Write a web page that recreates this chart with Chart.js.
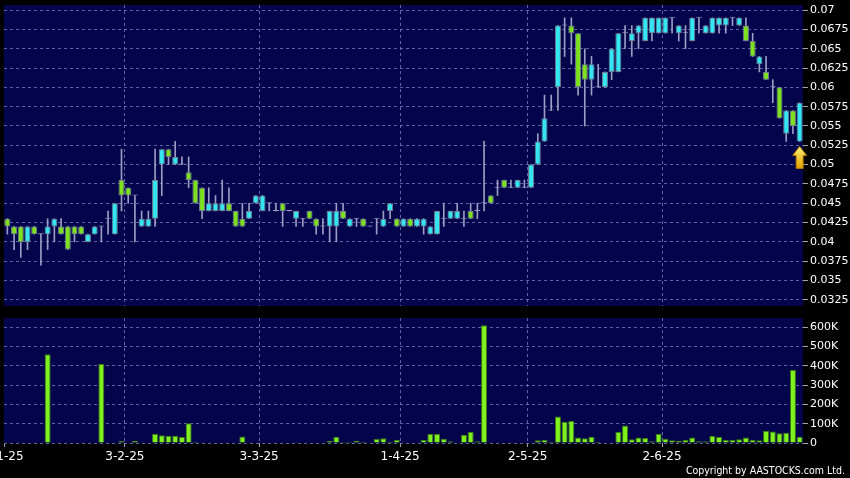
<!DOCTYPE html>
<html>
<head>
<meta charset="utf-8">
<script src="https://cdn.jsdelivr.net/npm/chart.js@4.4.1/dist/chart.umd.min.js"></script>
<style>
  html, body { margin: 0; padding: 0; background: #000; }
  #wrap { position: relative; width: 850px; height: 478px; overflow: hidden; background: #000; }
  #priceChart { position: absolute; left: 0; top: 0; }
  #volChart { position: absolute; left: 0; top: 312px; }
  #copy { position: absolute; right: 5px; top: 464px; color: #fff; font: 10.5px "DejaVu Sans Condensed", "DejaVu Sans", sans-serif; white-space: nowrap; }
</style>
</head>
<body>
<div id="wrap">
  <canvas id="priceChart" width="850" height="310"></canvas>
  <canvas id="volChart" width="850" height="166"></canvas>
  <div id="copy">Copyright by AASTOCKS.com Ltd.</div>
</div>
<script>
// daily OHLC (HKD)
const open = [
  0.043,0.042,0.042,0.040,0.042,0.041,0.041,0.042,0.042,0.042,
  0.042,0.042,0.040,0.041,0.042,0.043,0.041,0.048,0.047,0.046,
  0.042,0.042,0.043,0.050,0.052,0.050,0.050,0.049,0.048,0.047,
  0.044,0.044,0.044,0.045,0.044,0.043,0.043,0.045,0.044,0.045,
  0.044,0.045,0.044,0.043,0.043,0.044,0.043,0.042,0.042,0.042,
  0.044,0.042,0.043,0.043,0.042,0.043,0.042,0.044,0.043,0.042,
  0.043,0.042,0.042,0.041,0.041,0.043,0.043,0.043,0.043,0.044,
  0.044,0.045,0.046,0.047,0.048,0.047,0.047,0.047,0.047,0.050,
  0.053,0.057,0.060,0.068,0.068,0.067,0.063,0.061,0.060,0.060,
  0.062,0.062,0.067,0.066,0.067,0.066,0.067,0.067,0.067,0.069,
  0.067,0.067,0.066,0.069,0.067,0.067,0.068,0.068,0.069,0.068,
  0.068,0.066,0.063,0.062,0.060,0.060,0.054,0.057,0.053
];
const close = [
  0.042,0.041,0.040,0.042,0.041,0.041,0.042,0.043,0.041,0.039,
  0.041,0.041,0.041,0.042,0.042,0.043,0.045,0.046,0.046,0.046,
  0.043,0.043,0.048,0.052,0.051,0.051,0.050,0.048,0.045,0.044,
  0.045,0.045,0.045,0.044,0.042,0.042,0.044,0.046,0.046,0.045,
  0.044,0.044,0.044,0.044,0.043,0.043,0.042,0.042,0.044,0.044,
  0.043,0.043,0.043,0.042,0.042,0.043,0.043,0.045,0.042,0.043,
  0.042,0.043,0.043,0.042,0.044,0.043,0.044,0.044,0.043,0.043,
  0.044,0.045,0.045,0.047,0.047,0.047,0.048,0.047,0.050,0.053,
  0.056,0.057,0.068,0.068,0.067,0.060,0.061,0.063,0.060,0.062,
  0.065,0.067,0.067,0.067,0.068,0.069,0.069,0.069,0.069,0.069,
  0.068,0.067,0.069,0.069,0.068,0.069,0.069,0.069,0.069,0.069,
  0.066,0.064,0.064,0.061,0.060,0.056,0.057,0.055,0.058
];
const high = [
  0.043,0.042,0.042,0.042,0.042,0.041,0.043,0.043,0.043,0.042,
  0.042,0.042,0.041,0.042,0.042,0.044,0.045,0.052,0.047,0.046,
  0.044,0.044,0.052,0.052,0.052,0.053,0.051,0.051,0.048,0.047,
  0.047,0.046,0.048,0.047,0.044,0.045,0.045,0.046,0.046,0.045,
  0.045,0.045,0.044,0.044,0.043,0.044,0.043,0.043,0.044,0.045,
  0.045,0.043,0.043,0.043,0.042,0.043,0.044,0.045,0.043,0.043,
  0.043,0.043,0.043,0.042,0.044,0.045,0.044,0.045,0.044,0.045,
  0.045,0.053,0.046,0.048,0.048,0.048,0.048,0.048,0.050,0.054,
  0.059,0.059,0.068,0.069,0.069,0.067,0.065,0.064,0.063,0.062,
  0.065,0.067,0.068,0.068,0.068,0.069,0.069,0.069,0.069,0.069,
  0.068,0.068,0.069,0.069,0.068,0.069,0.069,0.069,0.069,0.069,
  0.069,0.067,0.064,0.064,0.061,0.060,0.057,0.057,0.058
];
const low = [
  0.041,0.039,0.038,0.039,0.041,0.037,0.039,0.040,0.041,0.039,
  0.040,0.041,0.040,0.041,0.040,0.041,0.041,0.044,0.045,0.040,
  0.042,0.042,0.042,0.046,0.050,0.050,0.050,0.047,0.045,0.043,
  0.044,0.044,0.044,0.044,0.042,0.042,0.043,0.045,0.044,0.044,
  0.044,0.042,0.044,0.042,0.042,0.043,0.041,0.041,0.040,0.040,
  0.043,0.042,0.042,0.042,0.042,0.041,0.042,0.043,0.042,0.042,
  0.042,0.042,0.041,0.041,0.041,0.042,0.043,0.043,0.042,0.043,
  0.043,0.044,0.045,0.046,0.047,0.047,0.047,0.047,0.047,0.050,
  0.053,0.057,0.057,0.064,0.063,0.059,0.055,0.059,0.060,0.060,
  0.061,0.062,0.065,0.064,0.065,0.066,0.066,0.067,0.067,0.067,
  0.066,0.065,0.066,0.067,0.067,0.067,0.067,0.067,0.068,0.068,
  0.066,0.064,0.062,0.061,0.058,0.056,0.053,0.054,0.053
];
// daily turnover (shares)
const volume = [
  1500,0,1500,0,0,0,460000,0,0,0,
  0,0,0,0,409000,0,0,10000,0,12000,
  0,0,48000,40000,38000,38000,31000,102000,7000,0,
  0,0,3000,0,3000,34000,0,3000,0,0,
  3000,2000,0,4000,0,0,2000,0,12000,33000,
  5000,5000,12000,7000,0,21000,24000,7000,17000,0,
  3000,0,15000,48000,47000,22000,9000,0,43000,57000,
  9000,610000,0,2000,0,4000,0,0,0,14000,
  17000,7000,138000,110000,114000,28000,24000,33000,7000,0,
  3000,57000,91000,19000,28000,26000,9000,47000,22000,14000,
  12000,17000,29000,9000,9000,38000,31000,15000,15000,19000,
  28000,17000,14000,64000,59000,50000,53000,379000,33000
];
const volTicks = [0, 100000, 200000, 300000, 400000, 500000, 600000];

// HK trading days from 3 Jan 2025, labelled d-m-yy
const holidays = ['2025-01-29','2025-01-30','2025-01-31','2025-04-04','2025-04-18','2025-04-21','2025-05-01','2025-05-05'];
const dates = [];
for (let d = new Date(Date.UTC(2025, 0, 3)); dates.length < open.length; d.setUTCDate(d.getUTCDate() + 1)) {
  const dow = d.getUTCDay();
  if (dow === 0 || dow === 6 || holidays.includes(d.toISOString().slice(0, 10))) continue;
  dates.push(d.getUTCDate() + '-' + (d.getUTCMonth() + 1) + '-' + String(d.getUTCFullYear()).slice(2));
}
// first trading day of each month gets a label + grid line
const monthStart = dates.map((s, i) => i === 0 || s.split('-')[1] !== dates[i - 1].split('-')[1]);

const UP = '#35e6f2';
const DOWN = '#7ee01f';
const WICK = '#9c9cc4';
const NAVY = '#03044b';
const GRID = 'rgba(120,124,185,0.8)';
const TICK = '#a0a0b0';
const FONT = '"DejaVu Sans", sans-serif';

const panelBg = {
  id: 'panelBg',
  beforeDraw(chart) {
    const { ctx, chartArea: a } = chart;
    ctx.save();
    ctx.fillStyle = '#000';
    ctx.fillRect(0, 0, chart.width, chart.height);
    ctx.fillStyle = NAVY;
    ctx.fillRect(a.left, a.top, a.right - a.left, a.bottom - a.top);
    ctx.restore();
  }
};

// yellow arrow under the latest bar
const lastArrow = {
  id: 'lastArrow',
  afterDatasetsDraw(chart) {
    const { ctx, scales: { x, y } } = chart;
    const i = open.length - 1;
    const cx = x.getPixelForValue(i);
    const top = y.getPixelForValue(low[i]) + 5;
    const g = ctx.createLinearGradient(0, top, 0, top + 22);
    g.addColorStop(0, '#fff27a');
    g.addColorStop(1, '#e3a000');
    ctx.save();
    ctx.beginPath();
    ctx.moveTo(cx, top);
    ctx.lineTo(cx + 7, top + 9);
    ctx.lineTo(cx + 3.5, top + 9);
    ctx.lineTo(cx + 3.5, top + 22);
    ctx.lineTo(cx - 3.5, top + 22);
    ctx.lineTo(cx - 3.5, top + 9);
    ctx.lineTo(cx - 7, top + 9);
    ctx.closePath();
    ctx.fillStyle = g;
    ctx.fill();
    ctx.strokeStyle = '#b07800';
    ctx.lineWidth = 1;
    ctx.stroke();
    ctx.restore();
  }
};

function candleColor(ctx) {
  const i = ctx.dataIndex;
  if (close[i] > open[i]) return UP;
  if (close[i] < open[i]) return DOWN;
  return WICK;
}

function xGrid(tickMarks) {
  return {
    offset: true,
    color: c => (c.index > 0 && monthStart[c.index]) ? GRID : 'transparent',
    tickColor: c => monthStart[c.index] ? TICK : 'transparent',
    drawTicks: tickMarks,
    tickLength: 4
  };
}

function fixRightAxis(scale) {
  scale.width = 47;
  scale.paddingTop = 0;
  scale.paddingBottom = 0;
}

Chart.defaults.font.family = FONT;
Chart.defaults.color = '#fff';
Chart.defaults.animation = false;

new Chart(document.getElementById('priceChart'), {
  type: 'bar',
  data: {
    labels: dates,
    datasets: [
      {
        data: open.map((o, i) => [o, close[i]]),
        backgroundColor: candleColor,
        borderColor: c => candleColor(c) === WICK ? WICK : '#6f7f90',
        borderWidth: 1,
        borderSkipped: false,
        minBarLength: 1,
        barPercentage: 0.9,
        categoryPercentage: 1,
        grouped: false,
        order: 0
      },
      {
        data: low.map((l, i) => [l, high[i]]),
        backgroundColor: WICK,
        borderWidth: 0,
        barThickness: 1,
        grouped: false,
        order: 1
      }
    ]
  },
  options: {
    responsive: false,
    layout: { padding: { top: 5, bottom: 4, left: 4, right: 0 } },
    plugins: { legend: { display: false }, tooltip: { enabled: false } },
    scales: {
      x: {
        offset: true,
        border: { display: false, dash: [3, 3] },
        grid: xGrid(false),
        ticks: { display: false },
        afterFit: s => { s.height = 0; s.paddingLeft = 0; s.paddingRight = 0; }
      },
      y: {
        position: 'right',
        min: 0.0317,
        max: 0.07066,
        border: { display: false, dash: [3, 3] },
        grid: { color: GRID, tickColor: TICK, tickLength: 5 },
        ticks: {
          stepSize: 0.0025,
          includeBounds: false,
          padding: 2,
          font: { size: 11 },
          callback: v => String(+v.toFixed(4))
        },
        afterFit: fixRightAxis
      }
    }
  },
  plugins: [panelBg, lastArrow]
});

new Chart(document.getElementById('volChart'), {
  type: 'bar',
  data: {
    labels: dates,
    datasets: [{
      data: volume,
      backgroundColor: '#7ff21e',
      borderColor: '#3d7a12',
      borderWidth: 1,
      borderSkipped: 'start',
      barPercentage: 0.9,
      categoryPercentage: 1
    }]
  },
  options: {
    responsive: false,
    layout: { padding: { top: 6, bottom: 0, left: 4, right: 0 } },
    plugins: { legend: { display: false }, tooltip: { enabled: false } },
    scales: {
      x: {
        offset: true,
        border: { display: false, dash: [3, 3] },
        grid: xGrid(true),
        ticks: {
          autoSkip: false,
          maxRotation: 0,
          padding: 3,
          labelOffset: -3.35,
          font: { size: 12 },
          callback: (v, i) => monthStart[i] ? dates[i] : ''
        },
        afterFit: s => { s.height = 35; s.paddingLeft = 0; s.paddingRight = 0; }
      },
      y: {
        position: 'right',
        min: 0,
        max: 648000,
        border: { display: false, dash: [3, 3] },
        grid: { color: GRID, tickColor: TICK, tickLength: 5 },
        ticks: {
          padding: 2,
          font: { size: 11 },
          callback: v => v === 0 ? '0' : (v / 1000) + 'K'
        },
        afterBuildTicks: s => { s.ticks = volTicks.map(v => ({ value: v })); },
        afterFit: fixRightAxis
      }
    }
  },
  plugins: [panelBg]
});
</script>
</body>
</html>
